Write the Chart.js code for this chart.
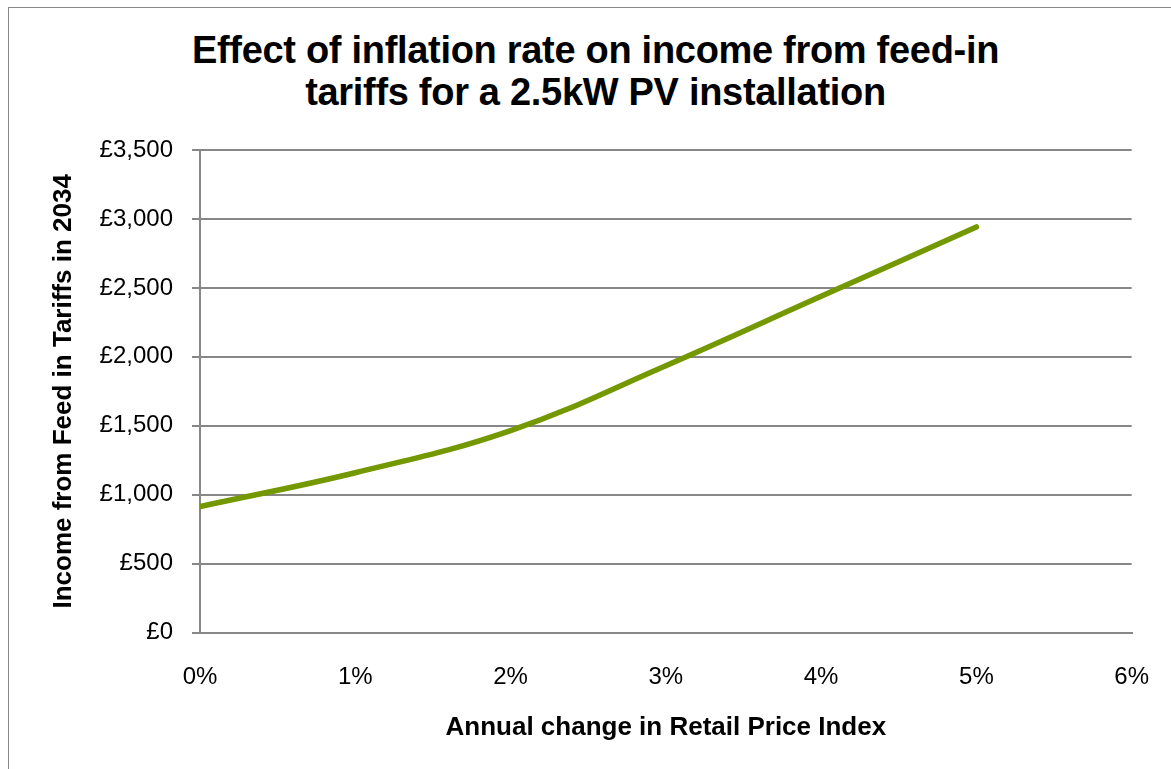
<!DOCTYPE html>
<html>
<head>
<meta charset="utf-8">
<script src="https://cdn.jsdelivr.net/npm/chart.js@4"></script>
<style>
  html,body{margin:0;padding:0;background:#fff;overflow:hidden;}
  #wrap{position:relative;width:1171px;height:769px;}
  #frame{position:absolute;left:8px;top:7px;width:1200px;height:800px;border:1.5px solid #888;box-sizing:border-box;}
  #title{position:absolute;left:0;width:1191px;top:29px;text-align:center;font:bold 38px "Liberation Sans",Arial,sans-serif;line-height:42px;color:#000;letter-spacing:-0.3px;}
  canvas{position:absolute;left:0;top:0;}
</style>
</head>
<body>
<div id="wrap">
  <div id="frame"></div>
  <div id="title">Effect of inflation rate on income from feed-in<br>tariffs for a 2.5kW PV installation</div>
  <canvas id="c" width="1171" height="769"></canvas>
</div>
<script>
const rpiRates = [0, 1, 2, 3, 4, 5];
const incomes = [915, 1160, 1465, 1936, 2439, 2942];
const xTitle = 'Annual change in Retail Price Index';
const yTitle = 'Income from Feed in Tariffs in 2034';

const font = '"Liberation Sans", Arial, sans-serif';
const gridColor = '#878787';

new Chart(document.getElementById('c'), {
  type: 'line',
  data: {
    datasets: [{
      data: rpiRates.map((r, i) => ({x: r, y: incomes[i]})),
      borderColor: '#739800',
      borderWidth: 5.5,
      borderCapStyle: 'round',
      pointRadius: 0,
      tension: 0.4,
      fill: false
    }]
  },
  options: {
    responsive: false,
    animation: false,
    layout: {padding: {left: 0, right: 39, top: 150, bottom: 0}},
    plugins: {legend: {display: false}, tooltip: {enabled: false}},
    scales: {
      x: {
        type: 'linear', min: 0, max: 6,
        afterFit: s => { s.height = 136.3; },
        ticks: {stepSize: 1, padding: 22, color: '#000', font: {family: font, size: 24}, callback: v => v + '%'},
        grid: {display: false, drawOnChartArea: false, drawTicks: true, tickLength: 8, color: gridColor, lineWidth: 2},
        border: {color: gridColor, width: 2},
        title: {display: true, text: xTitle, color: '#000', font: {family: font, size: 26, weight: 'bold'}, padding: {top: 0, bottom: 26}}
      },
      y: {
        min: 0, max: 3500,
        afterFit: s => { s.width = 200; },
        ticks: {stepSize: 500, padding: 19, color: '#000', font: {family: font, size: 24},
          callback: v => '£' + v.toLocaleString('en-GB')},
        grid: {color: gridColor, lineWidth: 2, tickLength: 8},
        border: {color: gridColor, width: 2},
        title: {display: true, text: yTitle, color: '#000', font: {family: font, size: 26, weight: 'bold'}, padding: {top: 48, bottom: 0}}
      }
    }
  }
});
</script>
</body>
</html>
